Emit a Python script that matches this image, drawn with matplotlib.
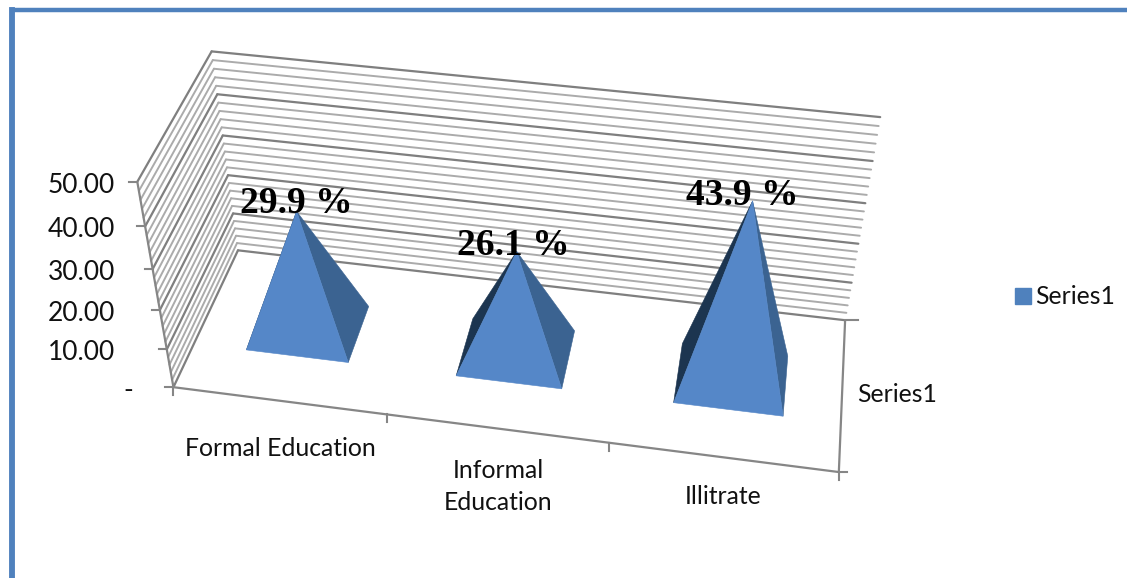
#!/usr/bin/env python3
"""3D pyramid column chart, education level shares."""

import numpy as np
import matplotlib
matplotlib.use("Agg")
import matplotlib.pyplot as plt
from matplotlib.patches import Patch


# ===== data =====
CATEGORIES = ["Formal Education", "Informal\nEducation", "Illitrate"]
VALUES = [29.9, 26.1, 43.9]
VALUE_LABELS = ["29.9 %", "26.1 %", "43.9 %"]
SERIES_NAME = "Series1"
Y_TICKS = [0, 10, 20, 30, 40, 50]
Y_TICK_LABELS = ["-", "10.00", "20.00", "30.00", "40.00", "50.00"]

# ===== config =====
W, H = 1127, 578
Z_MAX = 50
Z_MINOR = 2
HALF_W = 0.245   # half pyramid base along the category axis
HALF_D = 0.20    # half pyramid base along the depth axis

BLUE = "#4F81BD"
FRONT = "#5587C8"
RIGHT = "#3B6391"
LEFT = "#1C3550"
AXIS = "#868686"
GRID_MAJOR = "#7F7F7F"
GRID_MINOR = "#ABABAB"

LABEL_PT = 17.8
TICK_PT = 19
LABEL_FONT = "Lato"
# pixel centres of the axis texts
CATEGORY_POS = [(280, 448.5), (498, 486.5), (723, 497)]
VALUE_LABEL_SHIFT = [(0, -8), (-3, -6), (-10, -5)]

# frame anchors for the perspective: (category, depth, value) -> pixel
ANCHORS = [
    (0, 0, 0, 173, 387), (0, 0, 10, 167, 349), (0, 0, 20, 160, 310),
    (0, 0, 30, 153, 269), (0, 0, 40, 145, 227), (0, 0, 50, 137, 182),
    (0, 1, 0, 238, 251), (0, 1, 10, 233, 213), (0, 1, 20, 228, 175),
    (0, 1, 30, 223, 136), (0, 1, 40, 217, 94), (0, 1, 50, 212, 51),
    (3, 1, 0, 845, 320), (3, 1, 10, 852, 283), (3, 1, 20, 858, 244),
    (3, 1, 30, 865, 203), (3, 1, 40, 873, 161), (3, 1, 50, 880, 117),
    (3, 0, 0, 839, 472),
]


def fit_camera(anchors):
    """DLT fit of a 3x4 projection matrix"""
    rows, rhs = [], []
    for x, y, z, u, v in anchors:
        rows.append([x, y, z, 1, 0, 0, 0, 0, -u * x, -u * y, -u * z])
        rows.append([0, 0, 0, 0, x, y, z, 1, -v * x, -v * y, -v * z])
        rhs.extend([u, v])
    p = np.linalg.lstsq(np.array(rows, float), np.array(rhs, float), rcond=None)[0]
    return np.append(p, 1.0).reshape(3, 4)


CAM = fit_camera(ANCHORS)


def proj(x, y, z):
    u, v, w = CAM @ np.array([x, y, z, 1.0])
    return u / w, v / w


def line3d(ax, a, b, **kw):
    pa, pb = proj(*a), proj(*b)
    ax.plot([pa[0], pb[0]], [pa[1], pb[1]], solid_capstyle="round", **kw)


def draw_frame(ax):
    # wall grid
    for z in range(0, Z_MAX + 1, Z_MINOR):
        major = z % 10 == 0
        color = GRID_MAJOR if major else GRID_MINOR
        lw = 1.6 if major else 1.4
        line3d(ax, (0, 0, z), (0, 1, z), color=color, lw=lw, zorder=2 if major else 1)
        line3d(ax, (0, 1, z), (3, 1, z), color=color, lw=lw, zorder=2 if major else 1)

    # axes and floor edges
    line3d(ax, (0, 0, 0), (0, 0, Z_MAX), color=AXIS, lw=1.6, zorder=3)
    line3d(ax, (0, 0, 0), (3, 0, 0), color=AXIS, lw=1.6, zorder=3)
    line3d(ax, (3, 0, 0), (3, 1, 0), color=AXIS, lw=1.6, zorder=3)

    # value ticks
    for z, lab in zip(Y_TICKS, Y_TICK_LABELS):
        u, v = proj(0, 0, z)
        ax.plot([u - 8, u], [v, v], color=AXIS, lw=1.5, zorder=3)
        xt = 133 if lab == "-" else 115
        ax.text(xt, v + 3.5, lab, ha="right", va="center", fontsize=TICK_PT, color="#111111")

    # category ticks
    for i in range(len(CATEGORIES) + 1):
        u, v = proj(i, 0, 0)
        ax.plot([u, u], [v, v + 8], color=AXIS, lw=1.5, zorder=3)

    # depth axis ticks
    for d, length in [(0, 8), (1, 13)]:
        u, v = proj(3, d, 0)
        ax.plot([u, u + length], [v, v], color=AXIS, lw=1.5, zorder=3)


def draw_pyramid(ax, i, value):
    cx, cy = i + 0.5, 0.5
    fl = proj(cx - HALF_W, cy - HALF_D, 0)
    fr = proj(cx + HALF_W, cy - HALF_D, 0)
    br = proj(cx + HALF_W, cy + HALF_D, 0)
    bl = proj(cx - HALF_W, cy + HALF_D, 0)
    top = proj(cx, cy, value)
    for pts, color, zo in [((fl, bl, top), LEFT, 4), ((fr, br, top), RIGHT, 5), ((fl, fr, top), FRONT, 6)]:
        xs, ys = zip(*pts)
        ax.fill(xs, ys, facecolor=color, edgecolor=color, lw=0.4, zorder=zo)
    return top


def main():
    plt.rcParams["font.family"] = [LABEL_FONT, "DejaVu Sans"]

    fig = plt.figure(figsize=(W / 100, H / 100), dpi=100)
    ax = fig.add_axes([0, 0, 1, 1])
    ax.set_xlim(0, W)
    ax.set_ylim(H, 0)
    ax.axis("off")

    # blue page border
    ax.plot([12, 12, W], [H, 9.5, 9.5], color=BLUE, lw=3.2, solid_joinstyle="miter", zorder=1)
    ax.plot([12, 12], [H, 9.5], color=BLUE, lw=4.2, zorder=1)

    draw_frame(ax)

    for i, value in enumerate(VALUES):
        top = draw_pyramid(ax, i, value)
        dx, dy = VALUE_LABEL_SHIFT[i]
        ax.text(top[0] + dx, top[1] + dy, VALUE_LABELS[i], ha="center", va="center",
                family="Liberation Serif", weight="bold", fontsize=27, color="black", zorder=8)

    for name, (u, v) in zip(CATEGORIES, CATEGORY_POS):
        ax.text(u, v, name, ha="center", va="center", fontsize=LABEL_PT, color="#111111",
                linespacing=1.43)
    ax.text(897, 395, SERIES_NAME, ha="center", va="center", fontsize=LABEL_PT, color="#111111")

    handle = Patch(facecolor=BLUE, edgecolor=BLUE, label=SERIES_NAME)
    ax.legend(handles=[handle], loc="center left", bbox_to_anchor=(1008, 297),
              bbox_transform=ax.transData, frameon=False, fontsize=LABEL_PT,
              handlelength=0.64, handleheight=0.64, handletextpad=0.14,
              borderpad=0, borderaxespad=0.3, labelcolor="#111111")

    fig.savefig("out.png", dpi=100)


if __name__ == "__main__":
    main()
